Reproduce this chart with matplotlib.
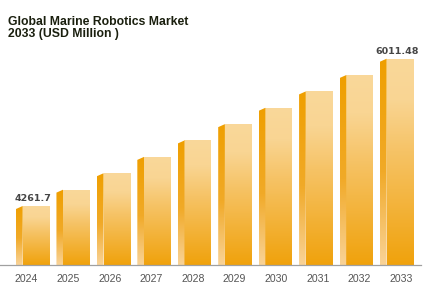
import numpy as np
import matplotlib
matplotlib.use("Agg")
import matplotlib.pyplot as plt
from matplotlib.colors import LinearSegmentedColormap
from matplotlib.patches import Polygon

# ---- data ----
years = ["2024", "2025", "2026", "2027", "2028", "2029", "2030", "2031", "2032", "2033"]
values = [4261.7, 4456, 4651, 4845, 5040, 5234, 5428, 5623, 5817, 6011.48]
labelled = {0: "4261.7", 9: "6011.48"}
title_lines = ["Global Marine Robotics Market", "2033 (USD Million )"]

W, H = 428, 293
fig = plt.figure(figsize=(W / 100, H / 100), dpi=100)
fig.patch.set_facecolor("white")

base_px = 265          # baseline pixel from top
axw_px = 421
ax = fig.add_axes([0, (H - base_px) / H, axw_px / W, base_px / H])
ymin, ymax = 3560.8, 6708.7
ax.set_ylim(ymin, ymax)
step = 40.44
ax.set_xlim(-16 / step, (axw_px - 16) / step)
upp = (ymax - ymin) / base_px  # value units per pixel

side_w = 6.7 / step
front_w = 26.8 / step
slant = 3 * upp

front_cmap = LinearSegmentedColormap.from_list(
    "front", [(0, "#f0a20c"), (0.55, "#f6c366"), (0.8, "#f9d593"), (1, "#fad89a")])
side_cmap = LinearSegmentedColormap.from_list(
    "side", [(0, "#f9d398"), (0.45, "#f1aa28"), (1, "#ef9f00")])

x = np.arange(len(years))
bars = ax.bar(x + side_w, [v - ymin for v in values], bottom=ymin,
              width=front_w, align="edge", color="none", linewidth=0)
grad = np.linspace(0, 1, 256).reshape(-1, 1)
for i, (b, v) in enumerate(zip(bars, values)):
    x0 = b.get_x()
    im = ax.imshow(grad, cmap=front_cmap, origin="lower", aspect="auto",
                   extent=(x0, x0 + front_w, ymin, v), zorder=2)
    im.set_clip_path(b)
    side = Polygon([(i, ymin), (i, v - slant), (i + side_w, v), (i + side_w, ymin)],
                   closed=True, facecolor="none", edgecolor="none")
    ax.add_patch(side)
    im2 = ax.imshow(grad, cmap=side_cmap, origin="lower", aspect="auto",
                    extent=(i, i + side_w, ymin, v), zorder=2)
    im2.set_clip_path(side)
    if i in labelled:
        ax.text(i + (side_w + front_w) / 2, v + 3 * upp, labelled[i],
                ha="center", va="bottom", fontsize=6.8, fontweight="bold",
                color="#454545", family="DejaVu Sans", zorder=3)

ax.set_xlim(-16 / step, (axw_px - 16) / step)
ax.set_ylim(ymin, ymax)

for s in ["top", "left", "right"]:
    ax.spines[s].set_visible(False)
ax.spines["bottom"].set_color("#a0a0a0")
ax.spines["bottom"].set_linewidth(0.9)
ax.set_yticks([])
tick_pos = [(26.5 - 16) / step + k * 41.6 / step for k in range(len(years))]
ax.set_xticks(tick_pos, years)
ax.tick_params(axis="x", length=0, pad=6.3, labelsize=7.6, labelcolor="#555555")
for t in ax.get_xticklabels():
    t.set_family("Liberation Sans")
ax.set_facecolor("white")

fig.text(8 / W, 1 - 25 / H, title_lines[0], ha="left", va="baseline",
         fontsize=8.8, fontweight="bold", family="Liberation Sans", color="#1a1f0e")
fig.text(8 / W, 1 - 37.5 / H, title_lines[1], ha="left", va="baseline",
         fontsize=8.8, fontweight="bold", family="Liberation Sans", color="#1a1f0e")

fig.savefig("out.png", dpi=100, facecolor="white")
